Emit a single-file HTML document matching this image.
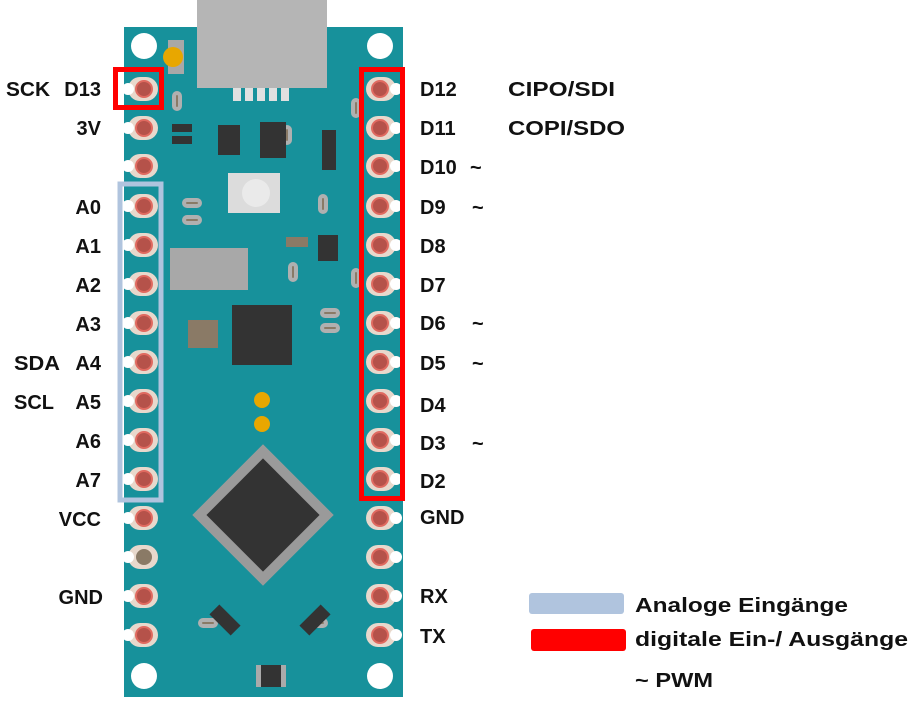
<!DOCTYPE html>
<html><head><meta charset="utf-8"><style>
body{margin:0;background:#fff}
text{font-family:"Liberation Sans",sans-serif;font-weight:bold;fill:#111}
</style></head><body>
<svg width="923" height="704" viewBox="0 0 923 704" xmlns="http://www.w3.org/2000/svg">
<rect x="124" y="27" width="279" height="670" fill="#17919b"/>
<rect x="197" y="0" width="130" height="88" fill="#b5b5b5"/>
<g fill="#e0e0e0"><rect x="233" y="88" width="8" height="13"/><rect x="245" y="88" width="8" height="13"/><rect x="257" y="88" width="8" height="13"/><rect x="269" y="88" width="8" height="13"/><rect x="281" y="88" width="8" height="13"/></g>
<circle cx="144" cy="46" r="13" fill="#fff"/><circle cx="380" cy="46" r="13" fill="#fff"/>
<circle cx="144" cy="676" r="13" fill="#fff"/><circle cx="380" cy="676" r="13" fill="#fff"/>
<rect x="168" y="40" width="16" height="34" fill="#a8a8a8"/>
<circle cx="173" cy="57" r="10" fill="#e8a700"/>
<g fill="#8a7a66" stroke="#b0b0b0" stroke-width="4">
<rect x="174" y="93" width="6" height="16" rx="3"/><rect x="284" y="127" width="6" height="16" rx="3"/><rect x="353" y="100" width="6" height="16" rx="3"/><rect x="320" y="196" width="6" height="16" rx="3"/>
<rect x="184" y="200" width="16" height="6" rx="3"/><rect x="184" y="217" width="16" height="6" rx="3"/>
<rect x="290" y="264" width="6" height="16" rx="3"/><rect x="353" y="270" width="6" height="16" rx="3"/>
<rect x="322" y="310" width="16" height="6" rx="3"/><rect x="322" y="325" width="16" height="6" rx="3"/>
<rect x="200" y="620" width="16" height="6" rx="3"/><rect x="310" y="620" width="16" height="6" rx="3"/>
</g>
<rect x="286" y="237" width="22" height="10" fill="#8a7a66"/>
<rect x="228" y="173" width="52" height="40" fill="#dcdcdc"/><circle cx="256" cy="193" r="14" fill="#eaeaea"/>
<rect x="170" y="248" width="78" height="42" fill="#a8a8a8"/>
<rect x="218" y="125" width="22" height="30" fill="#333"/>
<rect x="260" y="122" width="26" height="36" fill="#333"/>
<rect x="322" y="130" width="14" height="40" fill="#333"/>
<rect x="318" y="235" width="20" height="26" fill="#333"/>
<rect x="172" y="124" width="20" height="8" fill="#333"/><rect x="172" y="136" width="20" height="8" fill="#333"/>
<rect x="232" y="305" width="60" height="60" fill="#333"/>
<rect x="188" y="320" width="30" height="28" fill="#8a7a66"/>
<circle cx="262" cy="400" r="8" fill="#e8a700"/><circle cx="262" cy="424" r="8" fill="#e8a700"/>
<g transform="rotate(45 263 515)"><rect x="213" y="465" width="100" height="100" fill="#9a9a9a"/><rect x="223" y="475" width="80" height="80" fill="#333"/></g>
<g transform="rotate(45 225 620)"><rect x="210" y="613" width="30" height="14" fill="#333"/></g>
<g transform="rotate(-45 315 620)"><rect x="300" y="613" width="30" height="14" fill="#333"/></g>
<rect x="256" y="665" width="30" height="22" fill="#aaa"/><rect x="261" y="665" width="20" height="22" fill="#333"/>
<g id="pins">
<g fill="#e8d8cc"><rect x="128" y="77" width="30" height="24" rx="12"/><rect x="128" y="116" width="30" height="24" rx="12"/><rect x="128" y="154" width="30" height="24" rx="12"/><rect x="128" y="194" width="30" height="24" rx="12"/><rect x="128" y="233" width="30" height="24" rx="12"/><rect x="128" y="272" width="30" height="24" rx="12"/><rect x="128" y="311" width="30" height="24" rx="12"/><rect x="128" y="350" width="30" height="24" rx="12"/><rect x="128" y="389" width="30" height="24" rx="12"/><rect x="128" y="428" width="30" height="24" rx="12"/><rect x="128" y="467" width="30" height="24" rx="12"/><rect x="128" y="506" width="30" height="24" rx="12"/><rect x="128" y="545" width="30" height="24" rx="12"/><rect x="128" y="584" width="30" height="24" rx="12"/><rect x="128" y="623" width="30" height="24" rx="12"/>
<rect x="366" y="77" width="30" height="24" rx="12"/><rect x="366" y="116" width="30" height="24" rx="12"/><rect x="366" y="154" width="30" height="24" rx="12"/><rect x="366" y="194" width="30" height="24" rx="12"/><rect x="366" y="233" width="30" height="24" rx="12"/><rect x="366" y="272" width="30" height="24" rx="12"/><rect x="366" y="311" width="30" height="24" rx="12"/><rect x="366" y="350" width="30" height="24" rx="12"/><rect x="366" y="389" width="30" height="24" rx="12"/><rect x="366" y="428" width="30" height="24" rx="12"/><rect x="366" y="467" width="30" height="24" rx="12"/><rect x="366" y="506" width="30" height="24" rx="12"/><rect x="366" y="545" width="30" height="24" rx="12"/><rect x="366" y="584" width="30" height="24" rx="12"/><rect x="366" y="623" width="30" height="24" rx="12"/></g>
<g fill="#fff"><circle cx="128" cy="89" r="6"/><circle cx="128" cy="128" r="6"/><circle cx="128" cy="166" r="6"/><circle cx="128" cy="206" r="6"/><circle cx="128" cy="245" r="6"/><circle cx="128" cy="284" r="6"/><circle cx="128" cy="323" r="6"/><circle cx="128" cy="362" r="6"/><circle cx="128" cy="401" r="6"/><circle cx="128" cy="440" r="6"/><circle cx="128" cy="479" r="6"/><circle cx="128" cy="518" r="6"/><circle cx="128" cy="557" r="6"/><circle cx="128" cy="596" r="6"/><circle cx="128" cy="635" r="6"/>
<circle cx="396" cy="89" r="6"/><circle cx="396" cy="128" r="6"/><circle cx="396" cy="166" r="6"/><circle cx="396" cy="206" r="6"/><circle cx="396" cy="245" r="6"/><circle cx="396" cy="284" r="6"/><circle cx="396" cy="323" r="6"/><circle cx="396" cy="362" r="6"/><circle cx="396" cy="401" r="6"/><circle cx="396" cy="440" r="6"/><circle cx="396" cy="479" r="6"/><circle cx="396" cy="518" r="6"/><circle cx="396" cy="557" r="6"/><circle cx="396" cy="596" r="6"/><circle cx="396" cy="635" r="6"/></g>
<g fill="#b5524a" stroke="#e06a60" stroke-width="2"><circle cx="144" cy="89" r="8"/><circle cx="144" cy="128" r="8"/><circle cx="144" cy="166" r="8"/><circle cx="144" cy="206" r="8"/><circle cx="144" cy="245" r="8"/><circle cx="144" cy="284" r="8"/><circle cx="144" cy="323" r="8"/><circle cx="144" cy="362" r="8"/><circle cx="144" cy="401" r="8"/><circle cx="144" cy="440" r="8"/><circle cx="144" cy="479" r="8"/><circle cx="144" cy="518" r="8"/><circle cx="144" cy="596" r="8"/><circle cx="144" cy="635" r="8"/>
<circle cx="380" cy="89" r="8"/><circle cx="380" cy="128" r="8"/><circle cx="380" cy="166" r="8"/><circle cx="380" cy="206" r="8"/><circle cx="380" cy="245" r="8"/><circle cx="380" cy="284" r="8"/><circle cx="380" cy="323" r="8"/><circle cx="380" cy="362" r="8"/><circle cx="380" cy="401" r="8"/><circle cx="380" cy="440" r="8"/><circle cx="380" cy="479" r="8"/><circle cx="380" cy="518" r="8"/><circle cx="380" cy="557" r="8"/><circle cx="380" cy="596" r="8"/><circle cx="380" cy="635" r="8"/></g>
<circle cx="144" cy="557" r="8" fill="#8a7a66"/>
</g>
<rect x="115.5" y="69.5" width="46" height="38" fill="none" stroke="#f00" stroke-width="5"/>
<rect x="361.5" y="69.5" width="41" height="429" fill="none" stroke="#f00" stroke-width="5"/>
<rect x="120" y="184" width="41" height="316" fill="none" stroke="#b0c4de" stroke-width="5"/>
<g font-size="20" text-anchor="end">
<text x="101" y="96">D13</text><text x="101" y="135">3V</text><text x="101" y="214">A0</text><text x="101" y="253">A1</text><text x="101" y="292">A2</text><text x="101" y="331">A3</text><text x="101" y="370">A4</text><text x="101" y="409">A5</text><text x="101" y="448">A6</text><text x="101" y="487">A7</text><text x="101" y="526">VCC</text><text x="103" y="604">GND</text>
</g>
<g font-size="20"><text x="6" y="96" textLength="44" lengthAdjust="spacingAndGlyphs">SCK</text><text x="14" y="370" textLength="46" lengthAdjust="spacingAndGlyphs">SDA</text><text x="14" y="409" textLength="40" lengthAdjust="spacingAndGlyphs">SCL</text>
<text x="420" y="96">D12</text><text x="420" y="135">D11</text><text x="420" y="174">D10</text><text x="420" y="214">D9</text><text x="420" y="253">D8</text><text x="420" y="292">D7</text><text x="420" y="330">D6</text><text x="420" y="370">D5</text><text x="420" y="412">D4</text><text x="420" y="450">D3</text><text x="420" y="488">D2</text><text x="420" y="524">GND</text><text x="420" y="603">RX</text><text x="420" y="643">TX</text>
<text x="508" y="96" textLength="107" lengthAdjust="spacingAndGlyphs">CIPO/SDI</text><text x="508" y="135" textLength="117" lengthAdjust="spacingAndGlyphs">COPI/SDO</text>
<text x="470" y="174">~</text><text x="472" y="214">~</text><text x="472" y="330">~</text><text x="472" y="370">~</text><text x="472" y="450">~</text>
<text x="635" y="612" textLength="213" lengthAdjust="spacingAndGlyphs">Analoge Eingänge</text><text x="635" y="646" textLength="273" lengthAdjust="spacingAndGlyphs">digitale Ein-/ Ausgänge</text><text x="635" y="687" textLength="78" lengthAdjust="spacingAndGlyphs">~ PWM</text></g>
<rect x="529" y="593" width="95" height="21" rx="3" fill="#b0c4de"/>
<rect x="531" y="629" width="95" height="22" rx="3" fill="#f00"/>
</svg>
</body></html>
